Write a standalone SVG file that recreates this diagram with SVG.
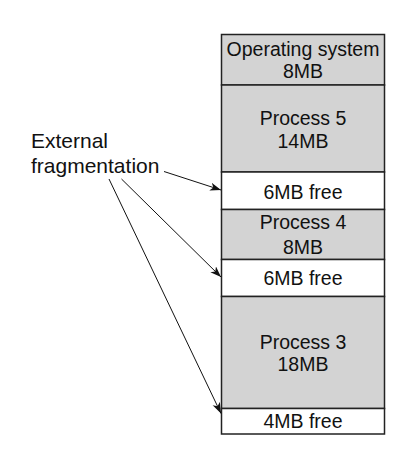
<svg xmlns="http://www.w3.org/2000/svg" width="415" height="462" viewBox="0 0 415 462">
<style>
.blk{stroke:#222;stroke-width:1.5}
.used{fill:#d3d3d3}
.free{fill:#fff}
text{font-family:"Liberation Sans",Arial,sans-serif;fill:#111}
.t{font-size:19.5px;text-anchor:middle}
.lbl{font-size:21px}
.conn{stroke:#111;stroke-width:1;fill:none;marker-end:url(#ah)}
</style>
<defs>
<marker id="ah" markerWidth="12" markerHeight="10" refX="11" refY="4" orient="auto" markerUnits="userSpaceOnUse">
<path d="M0,0 L11,4 L0,8 L3,4 z" fill="#111"/>
</marker>
</defs>
<rect x="0" y="0" width="415" height="462" fill="#fff"/>
<g id="os"><rect class="blk used" x="221.5" y="34.5" width="163" height="50.5"/><text class="t" x="303" y="55.5">Operating system</text><text class="t" x="303" y="78">8MB</text></g>
<g id="p5"><rect class="blk used" x="221.5" y="85" width="163" height="87"/><text class="t" x="303" y="125">Process 5</text><text class="t" x="303" y="147.5">14MB</text></g>
<g id="free1"><rect class="blk free" x="221.5" y="172" width="163" height="37.5"/><text class="t" x="303" y="199">6MB free</text></g>
<g id="p4"><rect class="blk used" x="221.5" y="209.5" width="163" height="50"/><text class="t" x="303" y="229">Process 4</text><text class="t" x="303" y="254">8MB</text></g>
<g id="free2"><rect class="blk free" x="221.5" y="259.5" width="163" height="37"/><text class="t" x="303" y="285">6MB free</text></g>
<g id="p3"><rect class="blk used" x="221.5" y="296.5" width="163" height="112"/><text class="t" x="303" y="349">Process 3</text><text class="t" x="303" y="371">18MB</text></g>
<g id="free3"><rect class="blk free" x="221.5" y="408.5" width="163" height="25.5"/><text class="t" x="303" y="428">4MB free</text></g>
<g id="label"><text class="lbl" x="31" y="147.5">External</text><text class="lbl" x="31" y="172.5">fragmentation</text></g>
<g id="connectors">
<path class="conn" d="M164,171.5 L221,190"/>
<path class="conn" d="M121.5,179 L221,277"/>
<path class="conn" d="M109,179 L221,413.5"/>
</g>
</svg>
